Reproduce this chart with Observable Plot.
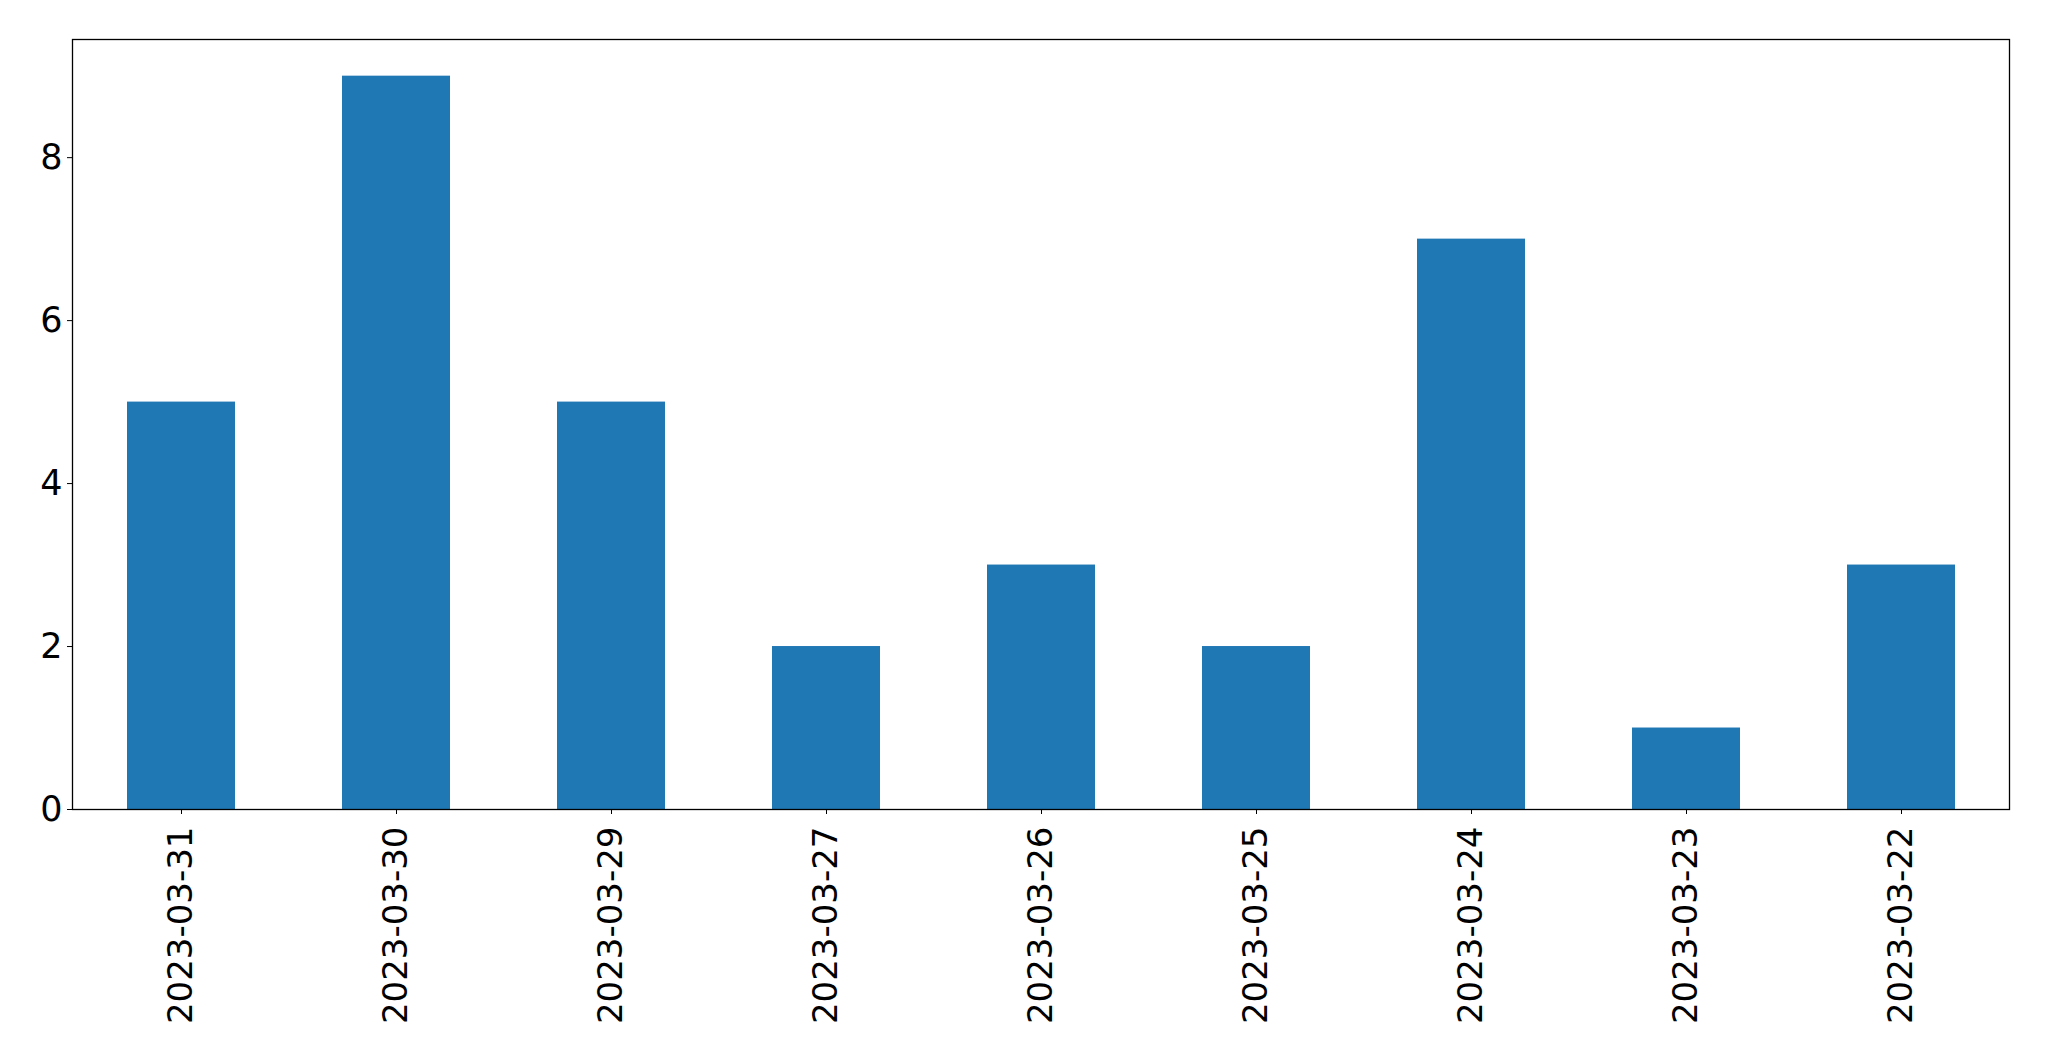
<!DOCTYPE html>
<html>
<head>
<meta charset="utf-8">
<script src="https://cdn.jsdelivr.net/npm/d3@7"></script>
<script src="https://cdn.jsdelivr.net/npm/@observablehq/plot@0.6"></script>
<style>
  html, body { margin: 0; padding: 0; background: #fff; }
  svg { display: block; }
</style>
</head>
<body>
<div id="chart"></div>
<script>
const dates = ["2023-03-31", "2023-03-30", "2023-03-29", "2023-03-27", "2023-03-26", "2023-03-25", "2023-03-24", "2023-03-23", "2023-03-22"];
const counts = [5, 9, 5, 2, 3, 2, 7, 1, 3];
const yTicks = [0, 2, 4, 6, 8];

const data = dates.map((d, i) => ({date: d, count: counts[i]}));

const chart = Plot.plot({
  width: 2049,
  height: 1061,
  marginLeft: 72,
  marginRight: 40,
  marginTop: 39,
  marginBottom: 252,
  style: {fontFamily: "DejaVu Sans", fontSize: "34px", color: "#000", background: "#fff"},
  x: {domain: dates, paddingInner: 0.5, paddingOuter: 0.25, label: null},
  y: {domain: [0, 9.45], label: null},
  marks: [
    Plot.barY(data, {x: "date", y: "count", fill: "#1f77b4"}),
    Plot.frame({stroke: "#000", strokeWidth: 1.3}),
    Plot.axisY({ticks: yTicks, tickSize: 5, tickPadding: 5, fontSize: 35, label: null, stroke: "#000"}),
    Plot.axisX({tickSize: 5, tickRotate: -90, tickPadding: 12, fontSize: 34, label: null, stroke: "#000"})
  ]
});
document.getElementById("chart").appendChild(chart);
</script>
</body>
</html>
